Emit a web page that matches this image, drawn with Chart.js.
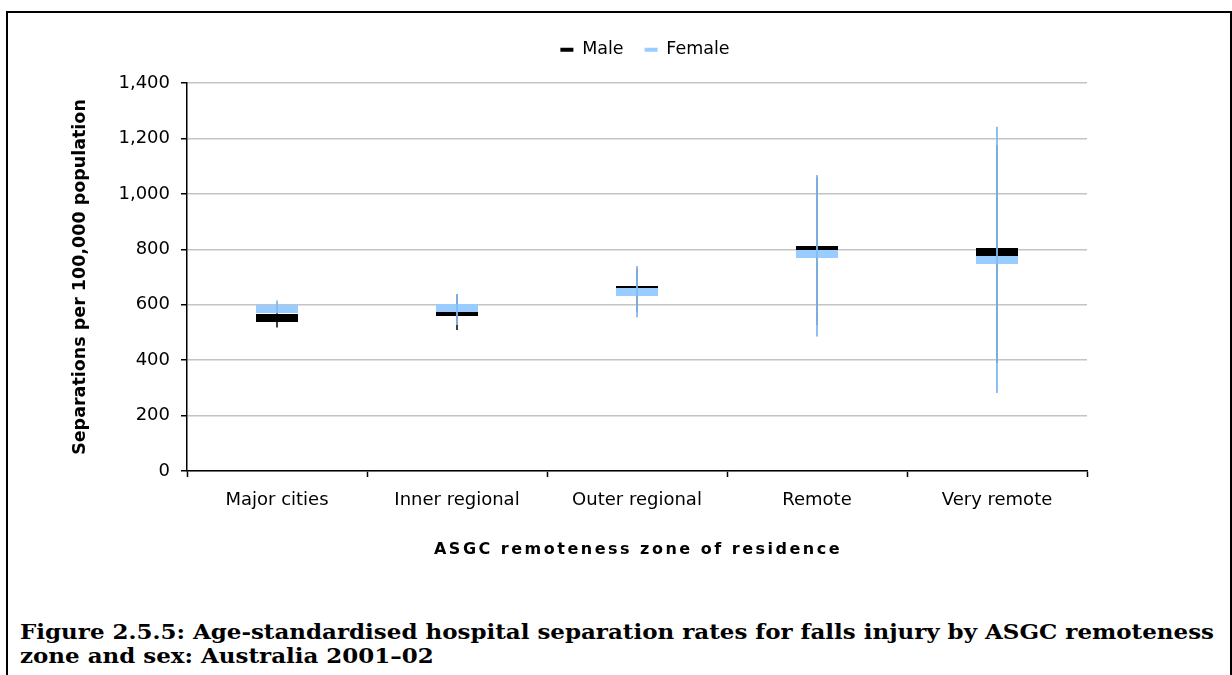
<!DOCTYPE html>
<html><head><meta charset="utf-8">
<script src="https://cdn.jsdelivr.net/npm/chart.js@4"></script>
<style>
html,body{margin:0;padding:0;background:#fff;width:1232px;height:675px;overflow:hidden;}
#frame{position:absolute;left:6px;top:11px;width:1226px;height:720px;border:2px solid #000;box-sizing:border-box;}
#wrap{position:absolute;left:0;top:0;width:1232px;height:600px;}
#caption{position:absolute;left:20px;top:620px;font-family:"DejaVu Serif";font-weight:bold;font-size:20.5px;line-height:24px;white-space:nowrap;transform-origin:0 0;color:#000;}
</style></head><body>
<div id="frame"></div>
<div id="wrap"><canvas id="c"></canvas></div>
<div id="caption"><span id="l1">Figure 2.5.5: Age-standardised hospital separation rates for falls injury by ASGC remoteness</span><br><span>zone and sex: Australia 2001–02</span></div>
<script>
const categories = ['Major cities', 'Inner regional', 'Outer regional', 'Remote', 'Very remote'];
const maleRate   = [552, 574, 653, 797, 790];
const femaleRate = [583, 588, 646, 782, 761];
const maleLow    = [518, 509, 575, 527, 390];
const maleHigh   = [586, 638, 730, 1060, 1176];
const femaleLow  = [568, 527, 555, 485, 281];
const femaleHigh = [615, 639, 740, 1068, 1242];
const yTicks = [0, 200, 400, 600, 800, 1000, 1200, 1400];

const MALE_COLOR = '#000000';
const FEMALE_COLOR = '#99ccff';
const FEMALE_LINE = 'rgba(130,185,240,0.9)';
const FONT = 'DejaVu Sans';

function dash(color, w, h) {
  const c = document.createElement('canvas');
  c.width = w; c.height = h;
  const g = c.getContext('2d');
  g.fillStyle = color; g.fillRect(0, 0, w, h);
  return c;
}

function drawBars(chart, lo, hi, color, w) {
  const {ctx, scales: {x, y}} = chart;
  ctx.save();
  ctx.strokeStyle = color; ctx.lineWidth = w;
  categories.forEach((c, i) => {
    const px = Math.round(x.getPixelForValue(i));
    ctx.beginPath();
    ctx.moveTo(px, y.getPixelForValue(lo[i]));
    ctx.lineTo(px, y.getPixelForValue(hi[i]));
    ctx.stroke();
  });
  ctx.restore();
}

const helper = {
  id: 'helper',
  beforeInit(chart) {
    const lg = chart.legend;
    if (lg) {
      const f = lg.fit.bind(lg);
      lg.fit = function () { f(); this.height = 63; };
    }
  },
  afterLayout(chart) {
    if (chart.legend) { chart.legend.left += 8; chart.legend.right += 8; }
  },
  beforeDatasetsDraw(chart) { drawBars(chart, maleLow, maleHigh, '#000', 1.5); },
  afterDatasetsDraw(chart) { drawBars(chart, femaleLow, femaleHigh, FEMALE_LINE, 2); },
  afterDraw(chart) {
    const t = chart.options.scales.x.title;
    const ca = chart.chartArea, ctx = chart.ctx;
    ctx.save();
    ctx.font = 'bold 16px "' + FONT + '"';
    ctx.fillStyle = '#000';
    ctx.letterSpacing = '2.5px';
    ctx.textAlign = 'center'; ctx.textBaseline = 'middle';
    ctx.fillText(t.text, (ca.left + ca.right) / 2 + 1, ca.bottom + 79);
    ctx.restore();
  }
};

new Chart(document.getElementById('c'), {
  type: 'line',
  data: {
    labels: categories,
    datasets: [
      { label: 'Male', data: maleRate, showLine: false, order: 1,
        pointStyle: dash(MALE_COLOR, 42, 8), pointRadius: 4, pointBorderWidth: 0,
        backgroundColor: MALE_COLOR, borderColor: MALE_COLOR, borderWidth: 0 },
      { label: 'Female', data: femaleRate, showLine: false, order: 0,
        pointStyle: dash(FEMALE_COLOR, 42, 8), pointRadius: 4, pointBorderWidth: 0,
        backgroundColor: FEMALE_COLOR, borderColor: FEMALE_COLOR, borderWidth: 0 }
    ]
  },
  options: {
    responsive: true, maintainAspectRatio: false, animation: false, events: [],
    layout: { padding: { top: 20, left: 70, right: 145, bottom: 0 } },
    plugins: {
      tooltip: { enabled: false },
      legend: {
        position: 'top', fullSize: false,
        labels: { boxWidth: 13, boxHeight: 4, padding: 21, color: '#000',
                  font: { family: FONT, size: 17.5 },
                  sort: (a, b) => a.datasetIndex - b.datasetIndex }
      }
    },
    scales: {
      x: {
        type: 'category', offset: true,
        grid: { display: true, drawOnChartArea: false, drawTicks: true, tickLength: 6,
                tickColor: '#000', tickWidth: 1.5, offset: true },
        border: { display: true, color: '#000', width: 1.5 },
        ticks: { color: '#000', font: { family: FONT, size: 18 }, padding: 13, maxRotation: 0, autoSkip: false },
        title: { display: false, text: 'ASGC remoteness zone of residence' },
        afterFit(s) { s.height = 129; }
      },
      y: {
        min: 0, max: 1400,
        afterBuildTicks(s) { s.ticks = yTicks.map(v => ({ value: v })); },
        grid: { color: '#c4c4c4', lineWidth: 1.5, tickLength: 6, tickColor: '#000', tickWidth: 1.5, drawTicks: true },
        border: { display: true, color: '#000', width: 1.5 },
        ticks: { color: '#000', font: { family: FONT, size: 18 }, padding: 11,
                 callback: v => Number(v).toLocaleString('en-US') },
        title: { display: true, text: 'Separations per 100,000 population', color: '#000',
                 font: { family: FONT, size: 17.5, weight: 'bold' }, padding: { top: 0, bottom: 0 } },
        afterFit(s) { s.width = 117; }
      }
    }
  },
  plugins: [helper]
});

(function fitCaption() {
  const cap = document.getElementById('caption');
  const l1 = document.getElementById('l1');
  const w = l1.getBoundingClientRect().width;
  if (w > 0) cap.style.transform = 'scaleX(' + (1194 / w) + ')';
})();
</script>
</body></html>
